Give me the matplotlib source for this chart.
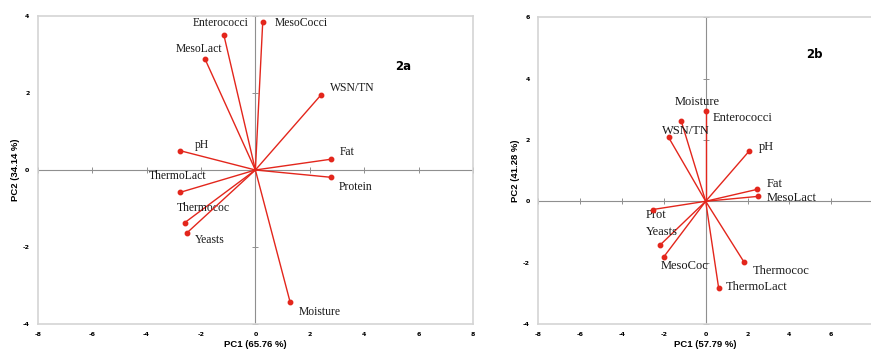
import matplotlib.pyplot as plt

plt.rcParams['axes.unicode_minus'] = False

# Datos del panel 2a (cargas PC1 / PC2)
vars_a = ['MesoCocci', 'Enterococci', 'MesoLact', 'WSN/TN', 'pH', 'Fat',
          'Protein', 'ThermoLact', 'Thermococ', 'Yeasts', 'Moisture']
pc1_a = [0.27, -1.16, -1.85, 2.40, -2.76, 2.78, 2.78, -2.76, -2.60, -2.51, 1.28]
pc2_a = [3.84, 3.51, 2.88, 1.94, 0.50, 0.28, -0.19, -0.58, -1.37, -1.63, -3.44]

# Datos del panel 2b
vars_b = ['Moisture', 'Enterococci', 'WSN/TN', 'pH', 'Fat', 'MesoLact',
          'Prot', 'Yeasts', 'MesoCoc', 'Thermococ', 'ThermoLact']
pc1_b = [-1.17, 0.0, -1.77, 2.07, 2.47, 2.50, -2.54, -2.20, -2.00, 1.83, 0.62]
pc2_b = [2.62, 2.93, 2.08, 1.63, 0.39, 0.16, -0.27, -1.44, -1.81, -1.98, -2.83]

# Desplazamiento de las etiquetas (pixeles)
offs_a = [(12, -1), (-31, 12), (-29, 10), (9, 7), (15, 6), (9, 7),
          (8, -10), (-31, 16), (-8, 15), (8, -7), (9, -10)]
offs_b = [(-7, 19), (7, -7), (-7, 6), (10, 4), (9, 5), (9, -2),
          (-7, -5), (-14, 13), (-3, -9), (9, -9), (7, 1)]

rojo = '#e3261c'
gris = '#8f8f8f'


def panel(ax, xs, ys, nombres, offs, xlim, ylim, xt, yt, etiqueta, xlab, ylab,
          tam, pos_etiq):
    ax.set_xlim(xlim)
    ax.set_ylim(ylim)
    for s in ax.spines.values():
        s.set_color('#d4d4d4')
        s.set_linewidth(1.2)
    ax.axhline(0, color=gris, lw=0.8, zorder=1)
    ax.axvline(0, color=gris, lw=0.8, zorder=1)
    # marcas sobre los ejes centrales
    ax.plot(xt, [0] * len(xt), ls='none', marker='|', ms=5, mew=0.7, color=gris, zorder=1)
    ax.plot([0] * len(yt), yt, ls='none', marker='_', ms=5, mew=0.7, color=gris, zorder=1)
    ax.set_xticks(xt)
    ax.set_yticks(yt)
    ax.tick_params(length=0, labelsize=4.5, pad=6)
    for t in ax.get_xticklabels() + ax.get_yticklabels():
        t.set_fontweight('bold')
    for x, y, n, (dx, dy) in zip(xs, ys, nombres, offs):
        ax.plot([0, x], [0, y], color=rojo, lw=1.0, zorder=3)
        ax.plot(x, y, 'o', color=rojo, ms=3.2, zorder=4)
        ax.annotate(n, (x, y), xytext=(dx, dy), textcoords='offset pixels',
                    ha='left', va='center', fontsize=tam,
                    family='Liberation Serif', color='#1a1a1a')
    ax.text(pos_etiq[0], pos_etiq[1], etiqueta, ha='center', va='center',
            fontsize=8.5, fontweight='bold', family='DejaVu Sans')
    ax.set_xlabel(xlab, fontsize=6.8, fontweight='bold', family='Liberation Sans', labelpad=2)
    ax.set_ylabel(ylab, fontsize=6.8, fontweight='bold', family='Liberation Sans', labelpad=2)


fig = plt.figure(figsize=(8.71, 3.53), dpi=100)
ax1 = fig.add_axes([0.0433, 0.0822, 0.4998, 0.8725])
ax2 = fig.add_axes([0.618, 0.0822, 0.3844, 0.869])

panel(ax1, pc1_a, pc2_a, vars_a, offs_a, (-8, 8), (-4, 4),
      list(range(-8, 9, 2)), list(range(-4, 5, 2)), '2a',
      'PC1 (65.76 %)', 'PC2 (34.14 %)', 8.4, (5.43, 2.69))
panel(ax2, pc1_b, pc2_b, vars_b, offs_b, (-8, 8), (-4, 6),
      list(range(-8, 9, 2)), list(range(-4, 7, 2)), '2b',
      'PC1 (57.79 %)', 'PC2 (41.28 %)', 9.0, (5.18, 4.78))

fig.savefig('out.png', dpi=100)
